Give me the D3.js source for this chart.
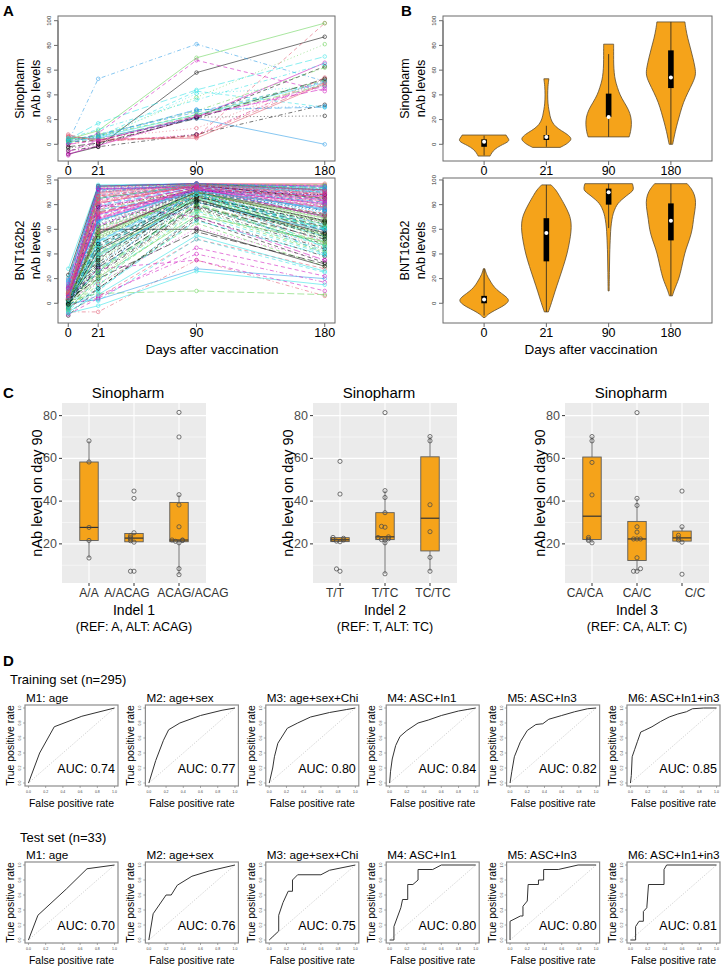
<!DOCTYPE html>
<html><head><meta charset="utf-8">
<script src="https://cdnjs.cloudflare.com/ajax/libs/d3/7.8.5/d3.min.js"></script>
<style>html,body{margin:0;padding:0;background:#fff}svg{display:block}</style>
</head><body>
<svg id="fig" width="724" height="968" xmlns="http://www.w3.org/2000/svg"></svg>
<script>
// ================= DATA =================
const days = [0, 21, 90, 180];
const dayLabels = ["0", "21", "90", "180"];
const nabTicks = [0, 20, 40, 60, 80, 100];

// Panel A: individual nAb trajectories [day0, day21, day90, day180]
const sinopharmSeries = [
 [-8,-2,58,87],[0,4,6,98],[3,6,38,81],[2,53,81,51],[4,17,44,71],[-8,-1,22,66],
 [2,3,22,63],[6,5,13,53],[1,8,27,62],[4,7,28,30],[5,6,24,50],[0,9,68,43],
 [-3,0,22,23],[7,3,7,54],[5,4,23,48],[3,5,21,0],[1,6,43,30],[-9,2,8,52],
 [-5,-2,8,32],[8,2,7,50],[4,11,70,98],[3,8,26,51],[2,4,41,47],[0,3,22,47],
 [-2,1,21,53],[6,4,5,49],[3,7,24,52],[4,6,28,31],[5,12,36,65],[-6,3,23,45]
];
const bntSeries = [
 [2,56,90,67],[5,70,93,82],[-3,34,88,52],[8,80,95,90],[0,45,86,60],[12,92,96,95],
 [3,62,91,72],[-5,20,80,45],[6,75,94,85],[1,50,89,64],[28,96,97,93],[4,88,95,88],
 [-2,30,84,55],[9,66,92,77],[2,40,87,58],[15,85,96,91],[-8,10,72,40],[5,58,90,70],
 [0,25,78,48],[7,82,95,86],[3,52,90,66],[11,90,96,94],[-1,36,85,50],[6,72,93,80],
 [2,48,88,62],[20,94,97,96],[-4,15,65,30],[4,60,91,74],[1,42,86,57],[8,78,94,84],
 [23,95,97,92],[-6,5,52,28],[3,55,89,68],[10,86,95,89],[0,28,80,47],[5,68,92,78],
 [2,46,88,61],[13,91,96,93],[-3,22,76,42],[6,74,93,82],[1,38,85,54],[9,84,95,87],
 [4,64,91,75],[-7,-7,35,6],[2,8,10,7],[0,3,28,20],[5,2,52,25],[3,16,61,35],
 [-10,12,70,38],[7,76,94,83],[2,54,90,69],[18,93,96,90],[-2,32,83,51],[6,69,92,79],
 [1,44,87,59],[10,89,96,92],[-5,18,74,41],[4,63,91,73],[0,26,79,46],[8,81,95,86],
 [3,57,90,71],[14,87,95,88],[-1,35,84,53],[5,71,93,81],[2,49,88,63],[16,95,97,95],
 [-4,12,68,33],[4,59,91,72],[1,41,86,56],[7,79,94,85],[21,92,96,90],[-9,4,45,22],
 [3,53,89,67],[9,83,95,88],[0,27,81,49],[6,67,92,76],[2,47,88,60],[12,90,96,92],
 [-3,24,77,44],[5,73,93,80],[1,39,85,55],[8,85,95,87],[4,65,91,74],[-2,6,40,17],
 [3,20,58,32],[0,90,97,97],[6,95,96,96],[2,30,96,80],[-6,14,90,60],[4,80,70,35],
 [1,60,60,30],[7,88,85,50],[3,45,75,65],[10,76,88,40],[-1,50,92,45],[5,93,94,70],
 [2,35,96,85],[8,70,78,58],[0,62,82,62],[4,25,95,75],[-8,-2,26,15],[3,28,35,10],
 [5,78,91,88],[1,58,87,73],[9,85,96,94],[-2,40,82,59],[3,66,93,84],[13,93,97,91],
 [0,33,86,66],[6,74,90,78],[-5,21,71,50],[2,51,89,76],[11,88,95,93],[4,63,92,87],
 [-1,29,79,52],[7,81,96,89],[3,56,88,64],[17,94,97,95],[-3,19,75,43],[5,69,93,83],
 [1,43,84,57],[8,86,94,86],[2,61,91,79],[14,91,96,92],[-4,11,67,39],[4,72,92,81],
 [0,37,83,54],[9,83,95,90],[3,59,90,70],[19,95,97,94],[-7,7,55,26],[6,77,94,84],
 [2,48,87,65],[10,87,96,91],[-2,26,80,47],[5,67,91,77],[1,45,88,61],[12,92,95,89],
 [-1,31,82,56],[4,73,93,85]
];

// Panel B: violin outlines as [nAb value, relative half-width], and box stats [lo, q1, median, q3, hi]
const sinoViolins = [
 [[-9.5,0.24],[-7,0.3],[-4,0.42],[-1,0.65],[2,0.98],[4,1.0],[6,0.92],[7.5,0.88]],
 [[-2.5,0.55],[0,0.8],[3,0.97],[5,1.0],[8,0.85],[11,0.6],[14,0.38],[18,0.22],[23,0.14],[28,0.1],[33,0.06],[40,0.05],[47,0.06],[53,0.1]],
 [[6,0.82],[10,0.88],[16,0.92],[22,0.9],[28,0.8],[34,0.62],[40,0.45],[46,0.35],[52,0.26],[58,0.22],[65,0.2],[72,0.2],[78,0.2],[81,0.2]],
 [[0,0.07],[5,0.12],[10,0.17],[18,0.27],[26,0.38],[34,0.5],[42,0.68],[50,0.88],[56,1.0],[62,0.97],[70,0.88],[78,0.78],[86,0.67],[93,0.6],[99,0.56]]
];
const sinoBoxes = [[-9,-2,2,4,7],[-2,3.5,6,7.5,15],[6,22,22,41,73],[0,45.5,54,76,99]];
const bntViolins = [
 [[-11.5,0.04],[-9,0.15],[-6,0.4],[-3,0.7],[0,0.92],[2.5,1.0],[5,0.9],[8,0.7],[11,0.5],[15,0.33],[19,0.22],[23,0.1],[28,0.03]],
 [[-7,0.08],[0,0.2],[10,0.35],[19,0.5],[30,0.68],[40,0.83],[50,0.93],[58,0.99],[65,1.0],[72,0.93],[81,0.7],[88,0.5],[92,0.38],[96,0.19]],
 [[10,0.02],[25,0.03],[40,0.04],[55,0.07],[62,0.09],[68,0.13],[73,0.18],[78,0.28],[81,0.37],[84,0.52],[87,0.7],[90,0.9],[92,1.0],[95,0.98],[97,0.95]],
 [[6,0.06],[10,0.12],[15,0.22],[20,0.32],[28,0.42],[36,0.5],[44,0.6],[52,0.75],[60,0.86],[68,0.9],[75,0.96],[82,1.0],[88,0.95],[93,0.82],[97,0.65]]
];
const bntBoxes = [[-10,0,3,6,28],[-7,34,57,69,96],[61,80,90,93,97],[6,51,67,81,97]];

// Panel C: day-90 nAb levels by genotype
const indel1Groups = ["A/A", "A/ACAG", "ACAG/ACAG"];
const indel1Values = [
 [68.2,58.3,27.7,21.6,13.4],
 [44.7,41.3,25.2,23.8,23.0,22.4,21.5,20.8,7.2,7.2],
 [81.5,70,43,38.2,28,21.8,21.8,21.6,21.2,20.5,8.4,5.6]
];
const indel2Groups = ["T/T", "T/TC", "TC/TC"];
const indel2Values = [
 [58.6,43.3,23,22.6,22,21.8,21.3,21,8.3,7.2],
 [81.4,44.9,41.7,34.6,28.2,27.8,23.3,23,22.4,22,21.8,20.5,6],
 [70.2,68.2,38.3,25.7,13.7,7.2]
];
const indel3Groups = ["CA/CA", "CA/C", "C/C"];
const indel3Values = [
 [70.2,68.2,58.1,42.9,23,22.2,21.6,20.5],
 [81.4,41.3,38,28,25.5,22.3,22.3,22.3,13.5,8.4,7.2,7.2],
 [44.7,28,24,22.8,21.8,20.8,5.8]
];
const boxTicks = [20, 40, 60, 80];

// Panel D: ROC curves [false positive rate, true positive rate]
const rocModels = ["M1: age","M2: age+sex","M3: age+sex+Chi","M4: ASC+In1","M5: ASC+In3","M6: ASC+In1+in3"];
const rocTrainAUC = [0.74, 0.77, 0.80, 0.84, 0.82, 0.85];
const rocTestAUC = [0.70, 0.76, 0.75, 0.80, 0.80, 0.81];
const rocTrainCurves = [
 [[0,0],[0.13,0.4],[0.3,0.75],[0.62,0.89],[1,1]],
 [[0,0],[0.08,0.3],[0.17,0.57],[0.23,0.71],[0.36,0.8],[0.6,0.9],[0.85,0.97],[1,1]],
 [[0,0],[0.04,0.2],[0.06,0.35],[0.1,0.53],[0.21,0.73],[0.33,0.8],[0.48,0.88],[0.7,0.94],[0.9,0.98],[1,1]],
 [[0,0],[0.01,0.15],[0.03,0.32],[0.07,0.5],[0.12,0.62],[0.2,0.7],[0.33,0.8],[0.45,0.84],[0.6,0.9],[0.8,0.96],[0.9,0.98],[1,1]],
 [[0,0],[0.02,0.15],[0.05,0.35],[0.12,0.55],[0.2,0.7],[0.3,0.78],[0.38,0.79],[0.45,0.85],[0.6,0.9],[0.75,0.95],[0.9,0.99],[1,1]],
 [[0,0],[0.01,0.1],[0.02,0.35],[0.05,0.45],[0.08,0.55],[0.12,0.68],[0.16,0.7],[0.25,0.75],[0.35,0.82],[0.45,0.88],[0.55,0.92],[0.65,0.95],[0.72,0.99],[0.85,1],[1,1]]
];
const rocTestCurves = [
 [[0,0],[0.11,0.33],[0.44,0.68],[0.68,0.95],[1,1]],
 [[0,0],[0.05,0.35],[0.2,0.6],[0.26,0.6],[0.33,0.73],[0.5,0.85],[0.7,0.92],[1,1]],
 [[0,0],[0.11,0.12],[0.11,0.33],[0.16,0.5],[0.22,0.65],[0.27,0.65],[0.27,0.8],[0.33,0.87],[0.6,0.87],[0.7,0.93],[1,1]],
 [[0,0],[0.05,0],[0.05,0.18],[0.13,0.43],[0.15,0.54],[0.21,0.54],[0.21,0.74],[0.27,0.74],[0.33,0.8],[0.33,0.94],[0.5,0.94],[0.6,1],[1,1]],
 [[0,0],[0,0.25],[0.12,0.32],[0.15,0.32],[0.15,0.45],[0.2,0.52],[0.21,0.74],[0.33,0.74],[0.33,0.8],[0.39,0.8],[0.39,0.94],[0.56,0.94],[0.79,1],[1,1]],
 [[0,0],[0.06,0],[0.06,0.18],[0.1,0.25],[0.15,0.25],[0.15,0.38],[0.19,0.43],[0.21,0.74],[0.39,0.74],[0.39,0.94],[0.42,1],[1,1]]
];
const rocTicks = [0, 0.2, 0.4, 0.6, 0.8, 1];

// ================= DRAWING =================
const FONT = '"Liberation Sans", Arial, Helvetica, sans-serif';
const svg = d3.select("#fig").style("font-family", FONT);
const rPalette = ["#000000","#DF536B","#61D04F","#2297E6","#28E2E5","#CD0BBC"];
const rLty = [null, "4,3", "1,2.5", "1,2.5,4,2.5", "7,3"];
const orange = "#F5A31A";
// horizontal nudges of genotype tick labels, as placed in the reference layout
const tickLabelNudge = { "A/ACAG": -7, "ACAG/ACAG": 14, "T/T": -5, "TC/TC": 3, "CA/CA": -7, "C/C": 13 };

function label(g, s, x, y, size, o = {}) {
  const t = g.append("text").attr("x", x).attr("y", y).attr("font-size", size)
    .attr("text-anchor", o.anchor || "start").attr("dominant-baseline", "central")
    .attr("fill", o.fill || "#000").text(s);
  if (o.weight) t.attr("font-weight", o.weight);
  if (o.rotate) t.attr("transform", `rotate(${o.rotate},${x},${y})`);
  return t;
}

function rFrame(g, x0, x1, yTop, yBot, y, xPos, xLabs, yTitle) {
  g.append("rect").attr("x", x0).attr("y", yTop).attr("width", x1 - x0).attr("height", yBot - yTop)
    .attr("fill", "none").attr("stroke", "#6b6b6b").attr("stroke-width", 1);
  g.append("line").attr("x1", x0).attr("x2", x0).attr("y1", y(0)).attr("y2", y(100)).attr("stroke", "#6b6b6b");
  nabTicks.forEach(v => {
    g.append("line").attr("x1", x0 - 4).attr("x2", x0).attr("y1", y(v)).attr("y2", y(v)).attr("stroke", "#6b6b6b");
    label(g, String(v), x0 - 9, y(v), 6, { anchor: "middle", rotate: -90, fill: "#333" });
  });
  xPos.forEach((p, i) => {
    g.append("line").attr("x1", p).attr("x2", p).attr("y1", yBot).attr("y2", yBot + 4).attr("stroke", "#6b6b6b");
    label(g, xLabs[i], p, yBot + 10, 12.5, { anchor: "middle" });
  });
  const cy = (yTop + yBot) / 2;
  label(g, yTitle[0], x0 - 38, cy, 12.5, { anchor: "middle", rotate: -90 });
  label(g, yTitle[1], x0 - 22, cy, 12.5, { anchor: "middle", rotate: -90 });
}

// ---- Panel A ----
function linePanel(series, yDom, yTop, yBot, yTitle, xTitle) {
  const g = svg.append("g");
  const x = d3.scaleLinear().domain([-7.2, 187.2]).range([58, 335]);
  const y = d3.scaleLinear().domain(yDom).range([yBot, yTop]);
  const line = d3.line().x((d, j) => x(days[j])).y(d => y(d));
  series.forEach((s, i) => {
    const c = rPalette[i % 6], lt = rLty[i % 5];
    g.append("path").attr("d", line(s)).attr("fill", "none").attr("stroke", c)
      .attr("stroke-width", 0.75).attr("stroke-opacity", 0.72).attr("stroke-dasharray", lt);
    g.selectAll(null).data(s).join("circle").attr("cx", (d, j) => x(days[j])).attr("cy", d => y(d))
      .attr("r", 1.8).attr("fill", "none").attr("stroke", c).attr("stroke-width", 0.7).attr("stroke-opacity", 0.75);
  });
  rFrame(g, 58, 335, yTop, yBot, y, days.map(d => x(d)), dayLabels, yTitle);
  if (xTitle) label(g, xTitle, 212, yBot + 26, 13.5, { anchor: "middle" });
}
linePanel(sinopharmSeries, [-13.5, 103.8], 16, 161, ["Sinopharm", "nAb levels"], null);
linePanel(bntSeries, [-16, 101.6], 178, 323, ["BNT162b2", "nAb levels"], "Days after vaccination");

// ---- Panel B ----
function violinPanel(profiles, boxes, yDom, yTop, yBot, yTitle, xTitle) {
  const g = svg.append("g");
  const x = d3.scaleLinear().domain([0.34, 4.66]).range([443, 712]);
  const y = d3.scaleLinear().domain(yDom).range([yBot, yTop]);
  const hw = 25;
  profiles.forEach((prof, i) => {
    const cx = x(i + 1);
    const area = d3.area().curve(d3.curveBasis).y(d => y(d[0]))
      .x0(d => cx - d[1] * hw).x1(d => cx + d[1] * hw);
    g.append("path").attr("d", area(prof)).attr("fill", orange).attr("stroke", "#5a4a30").attr("stroke-width", 0.8);
    const b = boxes[i];
    g.append("line").attr("x1", cx).attr("x2", cx).attr("y1", y(b[0])).attr("y2", y(b[4]))
      .attr("stroke", "#3a3020").attr("stroke-width", 0.9);
    g.append("rect").attr("x", cx - 2.8).attr("width", 5.6).attr("y", y(b[3])).attr("height", y(b[1]) - y(b[3])).attr("fill", "#000");
    g.append("circle").attr("cx", cx).attr("cy", y(b[2])).attr("r", 2).attr("fill", "#fff");
  });
  rFrame(g, 443, 712, yTop, yBot, y, [1, 2, 3, 4].map(d => x(d)), dayLabels, yTitle);
  if (xTitle) label(g, xTitle, 591, yBot + 26, 13.5, { anchor: "middle" });
}
violinPanel(sinoViolins, sinoBoxes, [-13.5, 103.8], 16, 161, ["Sinopharm", "nAb levels"], null);
violinPanel(bntViolins, bntBoxes, [-16, 101.6], 178, 323, ["BNT162b2", "nAb levels"], "Days after vaccination");

// ---- Panel C ----
function boxPanel(x0, groups, values, xTitle, xSub) {
  const g = svg.append("g");
  const w = 144, yTop = 403, yBot = 583;
  const x = d3.scalePoint().domain(groups).range([x0, x0 + w]).padding(0.6);
  const y = d3.scaleLinear().domain([1.7, 85.9]).range([yBot, yTop]);
  g.append("rect").attr("x", x0).attr("y", yTop).attr("width", w).attr("height", yBot - yTop).attr("fill", "#EBEBEB");
  [10, 30, 50, 70].forEach(v => g.append("line").attr("x1", x0).attr("x2", x0 + w).attr("y1", y(v)).attr("y2", y(v)).attr("stroke", "#fff").attr("stroke-width", 0.5));
  boxTicks.forEach(v => g.append("line").attr("x1", x0).attr("x2", x0 + w).attr("y1", y(v)).attr("y2", y(v)).attr("stroke", "#fff").attr("stroke-width", 1.1));
  groups.forEach(gr => g.append("line").attr("x1", x(gr)).attr("x2", x(gr)).attr("y1", yTop).attr("y2", yBot).attr("stroke", "#fff").attr("stroke-width", 1.1));
  groups.forEach((gr, i) => {
    const v = values[i].slice().sort(d3.ascending);
    const q1 = d3.quantile(v, 0.25), med = d3.quantile(v, 0.5), q3 = d3.quantile(v, 0.75);
    const iqr = q3 - q1;
    const lo = d3.min(v.filter(d => d >= q1 - 1.5 * iqr)), hi = d3.max(v.filter(d => d <= q3 + 1.5 * iqr));
    const cx = x(gr), bw = 0.41 * x.step();
    g.append("line").attr("x1", cx).attr("x2", cx).attr("y1", y(hi)).attr("y2", y(q3)).attr("stroke", "#6e6e6e").attr("stroke-width", 1);
    g.append("line").attr("x1", cx).attr("x2", cx).attr("y1", y(q1)).attr("y2", y(lo)).attr("stroke", "#6e6e6e").attr("stroke-width", 1);
    g.append("rect").attr("x", cx - bw / 2).attr("width", bw).attr("y", y(q3)).attr("height", y(q1) - y(q3))
      .attr("fill", orange).attr("stroke", "#5c5c5c").attr("stroke-width", 0.9);
    g.append("line").attr("x1", cx - bw / 2).attr("x2", cx + bw / 2).attr("y1", y(med)).attr("y2", y(med)).attr("stroke", "#333").attr("stroke-width", 1.2);
    const placed = [];
    v.forEach(d => {
      const k = placed.filter(p => Math.abs(p - d) < 1.3).length;
      placed.push(d);
      const off = k === 0 ? 0 : (k % 2 ? -1 : 1) * Math.ceil(k / 2) * 3.5;
      g.append("circle").attr("cx", cx + off).attr("cy", y(d)).attr("r", 2.1)
        .attr("fill", "none").attr("stroke", "#4a4a4a").attr("stroke-width", 0.75);
    });
    g.append("line").attr("x1", cx).attr("x2", cx).attr("y1", yBot).attr("y2", yBot + 3).attr("stroke", "#333");
    label(g, gr, cx + (tickLabelNudge[gr] || 0), yBot + 10, 12, { anchor: "middle", fill: "#333" });
  });
  boxTicks.forEach(v => {
    g.append("line").attr("x1", x0 - 3).attr("x2", x0).attr("y1", y(v)).attr("y2", y(v)).attr("stroke", "#333");
    label(g, String(v), x0 - 5, y(v), 12.5, { anchor: "end", fill: "#4d4d4d" });
  });
  label(g, "nAb level on day 90", x0 - 25, (yTop + yBot) / 2, 14.5, { anchor: "middle", rotate: -90 });
  label(g, "Sinopharm", x0 + w / 2 - 6, 392, 15, { anchor: "middle" });
  label(g, xTitle, x0 + w / 2, 610, 14, { anchor: "middle" });
  label(g, xSub, x0 + w / 2, 627, 12.5, { anchor: "middle" });
}
boxPanel(62, indel1Groups, indel1Values, "Indel 1", "(REF: A, ALT: ACAG)");
boxPanel(313, indel2Groups, indel2Values, "Indel 2", "(REF: T, ALT: TC)");
boxPanel(565, indel3Groups, indel3Values, "Indel 3", "(REF: CA, ALT: C)");

// ---- Panel D ----
function rocPanel(x0, yTop, curve, title, auc) {
  const g = svg.append("g");
  const w = 93, h = 81;
  const x = d3.scaleLinear().domain([-0.04, 1.04]).range([x0, x0 + w]);
  const y = d3.scaleLinear().domain([-0.04, 1.04]).range([yTop + h, yTop]);
  g.append("line").attr("x1", x(0)).attr("y1", y(0)).attr("x2", x(1)).attr("y2", y(1))
    .attr("stroke", "#bdbdbd").attr("stroke-width", 0.8).attr("stroke-dasharray", "1,1.5");
  g.append("path").attr("d", d3.line().x(d => x(d[0])).y(d => y(d[1]))(curve))
    .attr("fill", "none").attr("stroke", "#333").attr("stroke-width", 1);
  g.append("rect").attr("x", x0).attr("y", yTop).attr("width", w).attr("height", h)
    .attr("fill", "none").attr("stroke", "#8c8c8c").attr("stroke-width", 1.2);
  rocTicks.forEach(t => {
    g.append("line").attr("x1", x(t)).attr("x2", x(t)).attr("y1", yTop + h).attr("y2", yTop + h + 2).attr("stroke", "#777").attr("stroke-width", 0.6);
    label(g, t.toFixed(1), x(t), yTop + h + 6, 3.5, { anchor: "middle", fill: "#444" });
    g.append("line").attr("x1", x0 - 2).attr("x2", x0).attr("y1", y(t)).attr("y2", y(t)).attr("stroke", "#777").attr("stroke-width", 0.6);
    label(g, t.toFixed(1), x0 - 5, y(t), 3.5, { anchor: "middle", rotate: -90, fill: "#444" });
  });
  label(g, title, x0 + 1, yTop - 8, 11.7, { anchor: "start" });
  label(g, "AUC: " + auc.toFixed(2), x0 + w - 3, yTop + h - 17, 12.5, { anchor: "end" });
  label(g, "True positive rate", x0 - 15, yTop + h / 2, 10.5, { anchor: "middle", rotate: -90 });
  label(g, "False positive rate", x0 + w / 2, yTop + h + 17, 10.5, { anchor: "middle" });
}
rocModels.forEach((m, i) => {
  rocPanel(25 + i * 120.4, 705, rocTrainCurves[i], m, rocTrainAUC[i]);
  rocPanel(25 + i * 120.4, 862, rocTestCurves[i], m, rocTestAUC[i]);
});
label(svg, "Training set (n=295)", 10, 679, 13);
label(svg, "Test set (n=33)", 20, 837, 13);

// ---- Panel letters ----
label(svg, "A", 3, 10, 15, { weight: "bold" });
label(svg, "B", 401, 10, 15, { weight: "bold" });
label(svg, "C", 3, 392, 15, { weight: "bold" });
label(svg, "D", 3, 660, 15, { weight: "bold" });
</script>
</body></html>
